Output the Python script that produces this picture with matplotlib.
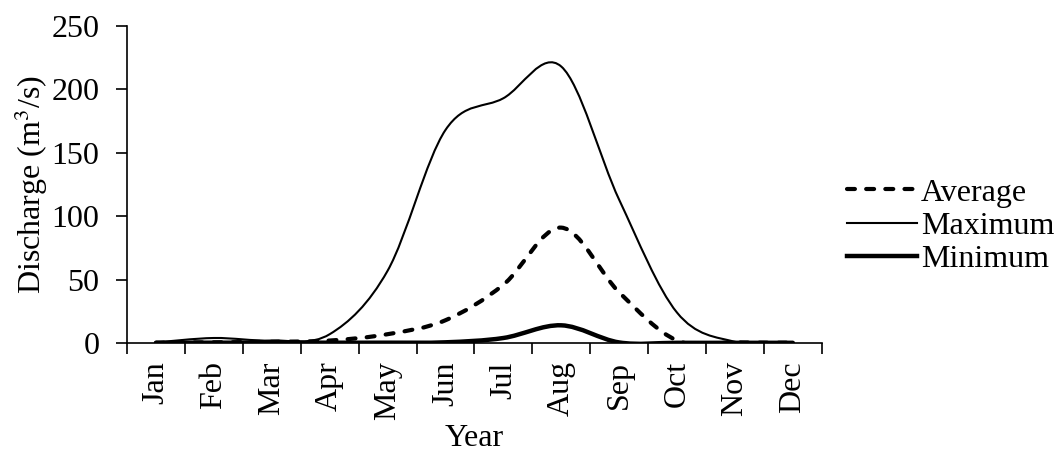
import numpy as np
import matplotlib
matplotlib.use('Agg')
from matplotlib import pyplot as plt
from matplotlib.path import Path
from matplotlib.patches import PathPatch
from matplotlib.lines import Line2D

months = ['Jan', 'Feb', 'Mar', 'Apr', 'May', 'Jun', 'Jul', 'Aug', 'Sep', 'Oct', 'Nov', 'Dec']
average = [0.3, 0.6, 1.0, 2.0, 7.0, 18.0, 46.0, 91.0, 40.0, 2.0, 0.5, 0.3]
maximum = [0.5, 4.0, 2.0, 7.0, 57.0, 168.0, 193.0, 218.0, 113.0, 24.0, 1.0, 0.3]
minimum = [0.2, 0.3, 0.3, 0.3, 0.3, 0.6, 4.0, 14.0, 0.5, 0.2, 0.2, 0.2]

plt.rcParams['font.family'] = ['Liberation Serif', 'DejaVu Serif']
plt.rcParams['mathtext.fontset'] = 'stix'
FS = 23
DASH = (0, (1.9, 2.7))


def smooth_path(xs, ys):
    # excel style smoothed line: bezier segments through every point
    pts = np.column_stack([xs, ys])
    n = len(pts)
    verts = [pts[0]]
    codes = [Path.MOVETO]
    for i in range(n - 1):
        p_prev = pts[i - 1] if i > 0 else pts[i]
        p_next2 = pts[i + 2] if i + 2 < n else pts[i + 1]
        c1 = pts[i] + (pts[i + 1] - p_prev) / 6.0
        c2 = pts[i + 1] - (p_next2 - pts[i]) / 6.0
        verts += [c1, c2, pts[i + 1]]
        codes += [Path.CURVE4] * 3
    return Path(verts, codes)


fig = plt.figure(figsize=(10.59, 4.55), dpi=100)
ax = fig.add_axes([0.120, 0.246, 0.656, 0.697])

x = np.arange(len(months)) + 0.5
series = [
    (average, dict(lw=3.0, ls=DASH)),
    (maximum, dict(lw=1.5, ls='-')),
    (minimum, dict(lw=3.2, ls='-')),
]
for vals, st in series:
    patch = PathPatch(smooth_path(x, vals), fill=False, edgecolor='black',
                      linewidth=st['lw'], linestyle=st['ls'], capstyle='round',
                      joinstyle='round', zorder=3)
    ax.add_patch(patch)

ax.set_xlim(0, 12)
ax.set_ylim(0, 250)
ax.set_yticks(np.arange(0, 251, 50))
ax.set_xticks(np.arange(0, 13))
ax.set_xticklabels([])
ax.set_xticks(x, minor=True)
ax.set_xticklabels(months, minor=True, rotation=90)
ax.tick_params(axis='x', which='minor', length=0, pad=13, labelsize=FS)
ax.tick_params(axis='x', which='major', direction='out', length=8, width=1.2)
ax.tick_params(axis='y', direction='out', length=8, width=1.2, labelsize=FS, pad=12)
for side in ['top', 'right']:
    ax.spines[side].set_visible(False)
for side in ['left', 'bottom']:
    ax.spines[side].set_linewidth(1.2)

ax.set_ylabel('Discharge (m$^3$/s)', fontsize=FS, labelpad=1)
ax.set_xlabel('Year', fontsize=FS, labelpad=3)

handles = [
    Line2D([], [], color='black', lw=3.0, ls=DASH, dash_capstyle='round'),
    Line2D([], [], color='black', lw=1.5),
    Line2D([], [], color='black', lw=3.2),
]
fig.legend(handles, ['Average', 'Maximum', 'Minimum'], loc='center left',
           bbox_to_anchor=(0.800, 0.503), frameon=False, fontsize=FS,
           handlelength=2.2, handletextpad=0.1, labelspacing=0.12,
           borderpad=0, borderaxespad=0)

fig.savefig('out.png', dpi=100)
